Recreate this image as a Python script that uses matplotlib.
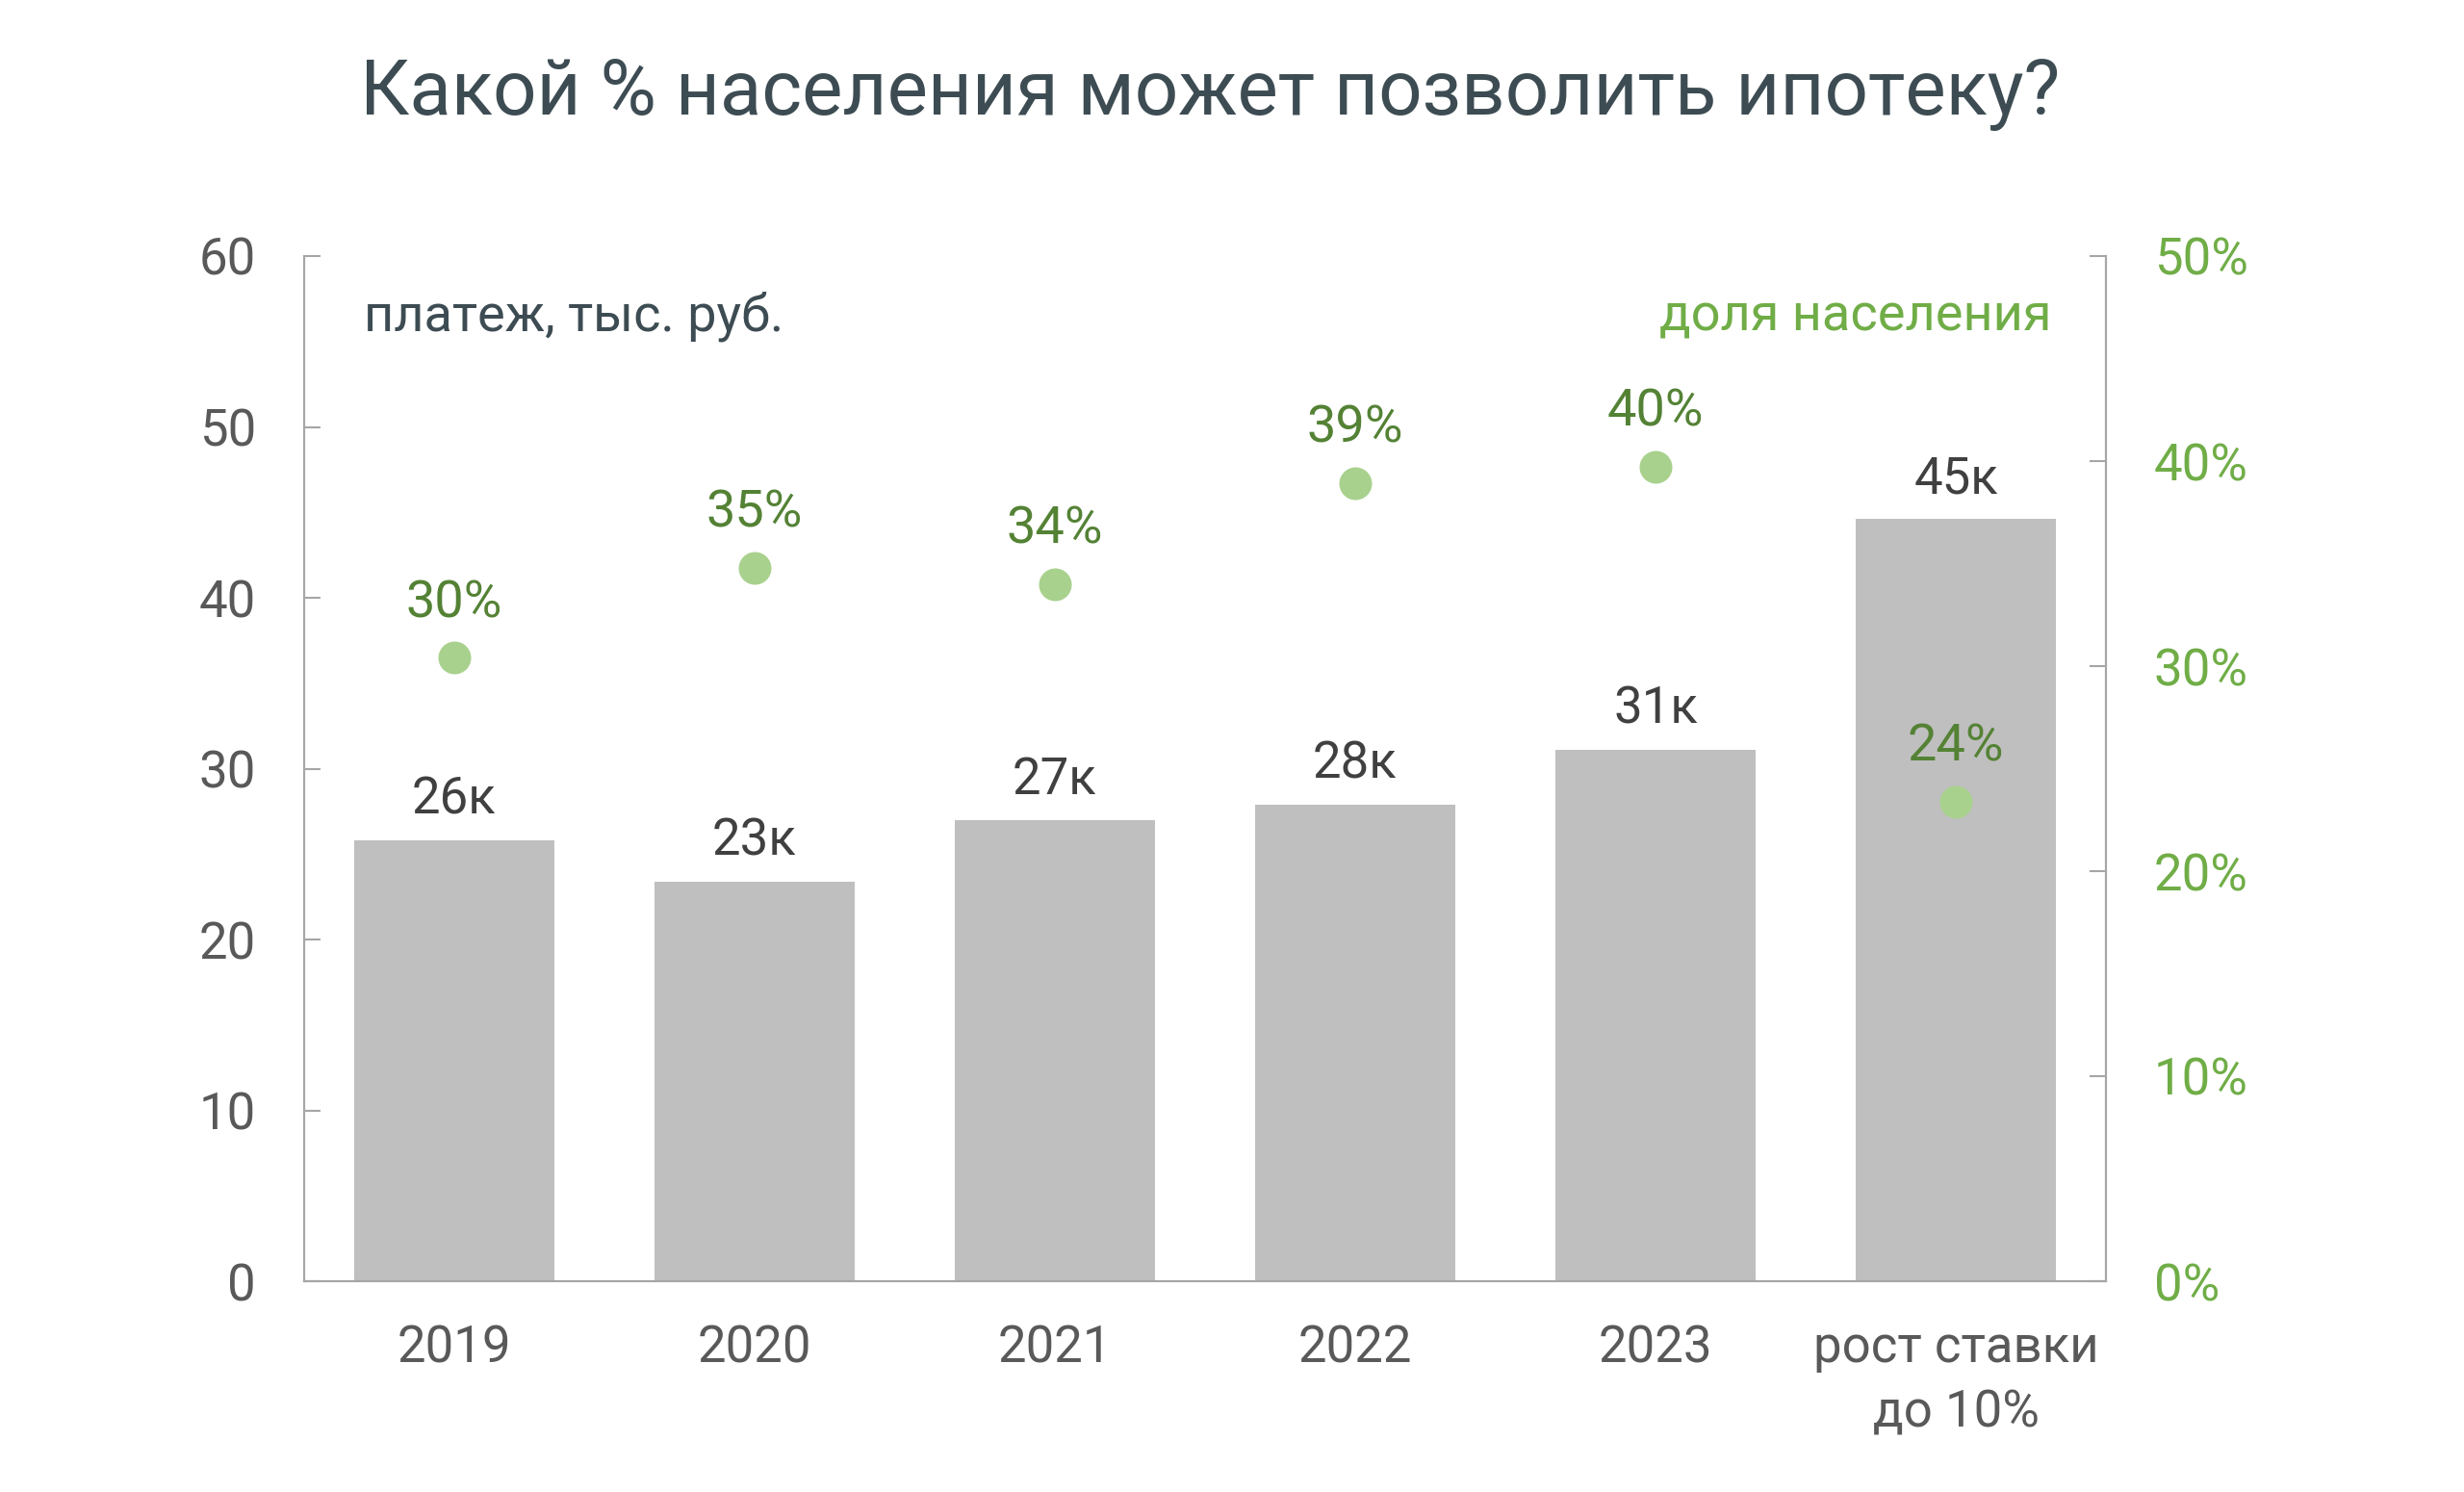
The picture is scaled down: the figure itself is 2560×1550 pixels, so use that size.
import matplotlib
matplotlib.use("Agg")
import matplotlib.pyplot as plt
import numpy as np

plt.rcParams['font.family'] = ['Roboto', 'DejaVu Sans']

categories = ["2019", "2020", "2021", "2022", "2023", "рост ставки\nдо 10%"]
payment = [25.8, 23.4, 27.0, 27.9, 31.1, 44.6]
payment_labels = ["26к", "23к", "27к", "28к", "31к", "45к"]
share = [30.4, 34.8, 34.0, 38.9, 39.7, 23.4]
share_labels = ["30%", "35%", "34%", "39%", "40%", "24%"]
left_ticks = [0, 10, 20, 30, 40, 50, 60]
right_ticks = [0, 10, 20, 30, 40, 50]
right_tick_labels = ["0%", "10%", "20%", "30%", "40%", "50%"]

fig = plt.figure(figsize=(25.6, 15.5), dpi=100)
L, R, B, T = 316 / 2560, 2188 / 2560, 1 - 1331 / 1550, 1 - 266 / 1550
ax = fig.add_axes([L, B, R - L, T - B])
ax2 = ax.twinx()

x = np.arange(len(categories))
ax.bar(x, payment, width=0.665, color="#bfbfbf", zorder=2)
ax.set_xlim(-0.5, len(categories) - 0.5)
ax.set_ylim(0, 60)
ax.set_yticks(left_ticks)
ax.set_xticks(x)
ax.set_xticklabels(categories, fontsize=38, color="#595959", linespacing=1.4)
ax.tick_params(axis='x', length=0, pad=32)
ax.tick_params(axis='y', direction='in', length=12, width=1.5, color="#a6a6a6",
               labelsize=38, labelcolor="#595959", pad=36)

for i, (v, lab) in enumerate(zip(payment, payment_labels)):
    ax.annotate(lab, (x[i], v), xytext=(0, 30), textcoords='offset points',
                ha='center', va='center', fontsize=38, color="#404040")

ax2.scatter(x, share, s=600, color="#a9d18e", zorder=3, linewidths=0)
for i, (v, lab) in enumerate(zip(share, share_labels)):
    ax2.annotate(lab, (x[i], v), xytext=(0, 41), textcoords='offset points',
                 ha='center', va='center', fontsize=39, color="#548235")
ax2.set_ylim(0, 50)
ax2.set_yticks(right_ticks)
ax2.set_yticklabels(right_tick_labels)
ax2.tick_params(axis='y', direction='in', length=12, width=1.5, color="#a6a6a6",
                labelsize=38, labelcolor="#70ad47", pad=36)

for a in (ax, ax2):
    a.spines['top'].set_visible(False)
    for s in ('left', 'right', 'bottom'):
        a.spines[s].set_color("#a6a6a6")
        a.spines[s].set_linewidth(1.5)

fig.text(0.491, 0.937, "Какой % населения может позволить ипотеку?",
         ha='center', va='center', fontsize=57.5, color="#3d4c53")
fig.text(378 / 2560, 0.788, "платеж, тыс. руб.", ha='left', va='center',
         fontsize=39, color="#3d4c53")
fig.text(2132 / 2560, 0.788, "доля населения", ha='right', va='center',
         fontsize=39, color="#70ad47")

fig.savefig("out.png", dpi=100)
